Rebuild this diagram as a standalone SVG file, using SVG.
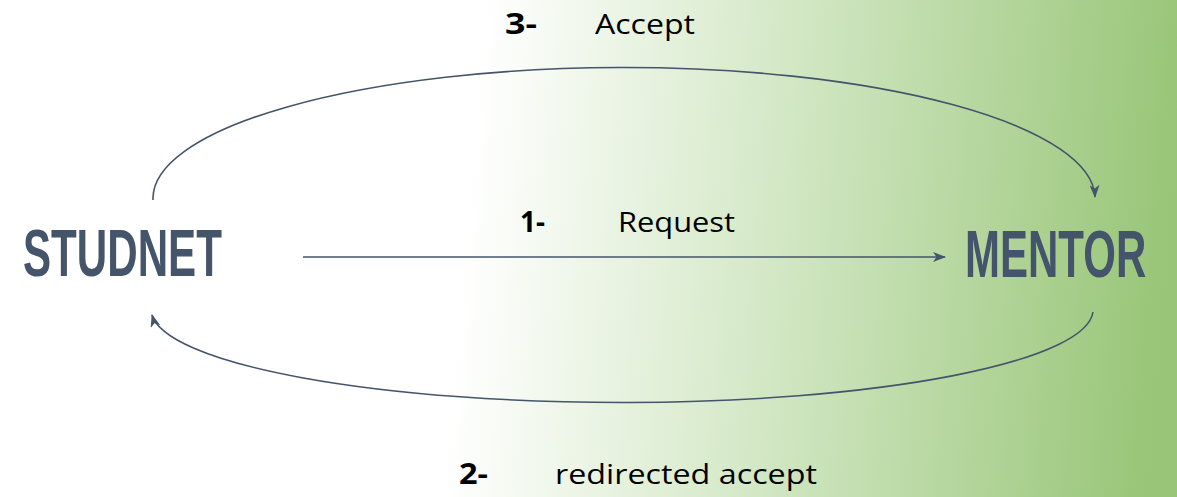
<svg xmlns="http://www.w3.org/2000/svg" width="1177" height="497" viewBox="0 0 1177 497">
  <defs>
    <linearGradient id="bg" gradientUnits="userSpaceOnUse" x1="485" y1="0" x2="1185" y2="60">
      <stop offset="0" stop-color="#ffffff"/>
      <stop offset="0.45" stop-color="#d2e7c4"/>
      <stop offset="1" stop-color="#98c577"/>
    </linearGradient>
    <marker id="arrow" viewBox="0 0 13 10" refX="12" refY="5" markerWidth="13" markerHeight="10" markerUnits="userSpaceOnUse" orient="auto">
      <path d="M0,0 L13,5 L0,10 L3.5,5 Z" fill="#44546a"/>
    </marker>
    <style>
      .node { font-family: "Liberation Sans", Arial, sans-serif; font-weight: bold; font-size: 67px; fill: #44546a; }
      .lbl { font-family: "Open Sans", "Liberation Sans", sans-serif; font-size: 28px; fill: #000000; }
      .num { font-family: "Open Sans", "Liberation Sans", sans-serif; font-weight: bold; font-size: 28px; fill: #000000; }
      .link { fill: none; stroke: #44546a; stroke-width: 1.6; marker-end: url(#arrow); }
    </style>
  </defs>

  <rect x="0" y="0" width="1177" height="497" fill="url(#bg)"/>

  <g id="connectors">
    <path id="request" class="link" d="M303,257 L945,257" stroke-width="2"/>
    <path id="accept" class="link" d="M153,200 A471,131 0 0 1 1095,197"/>
    <path id="redirected" class="link" d="M1093,312 A471,93 0 0 1 152,315"/>
  </g>

  <!-- condensed node titles: bold sans squeezed horizontally -->
  <g id="student" transform="translate(23,276) scale(0.629,1)">
    <text class="node" x="0" y="0">STUDNET</text>
  </g>
  <g id="mentor" transform="translate(965,277) scale(0.627,1)">
    <text class="node" x="0" y="0">MENTOR</text>
  </g>

  <g id="labels">
    <text class="num" x="505" y="34" textLength="32" lengthAdjust="spacingAndGlyphs">3-</text>
    <text class="lbl" x="595" y="34" textLength="100" lengthAdjust="spacingAndGlyphs">Accept</text>
    <text class="num" x="520" y="232" textLength="25" lengthAdjust="spacingAndGlyphs">1-</text>
    <text class="lbl" x="618" y="232" textLength="117" lengthAdjust="spacingAndGlyphs">Request</text>
    <text class="num" x="459" y="484" textLength="29" lengthAdjust="spacingAndGlyphs">2-</text>
    <text class="lbl" x="555" y="484" textLength="262" lengthAdjust="spacingAndGlyphs">redirected accept</text>
  </g>
</svg>
